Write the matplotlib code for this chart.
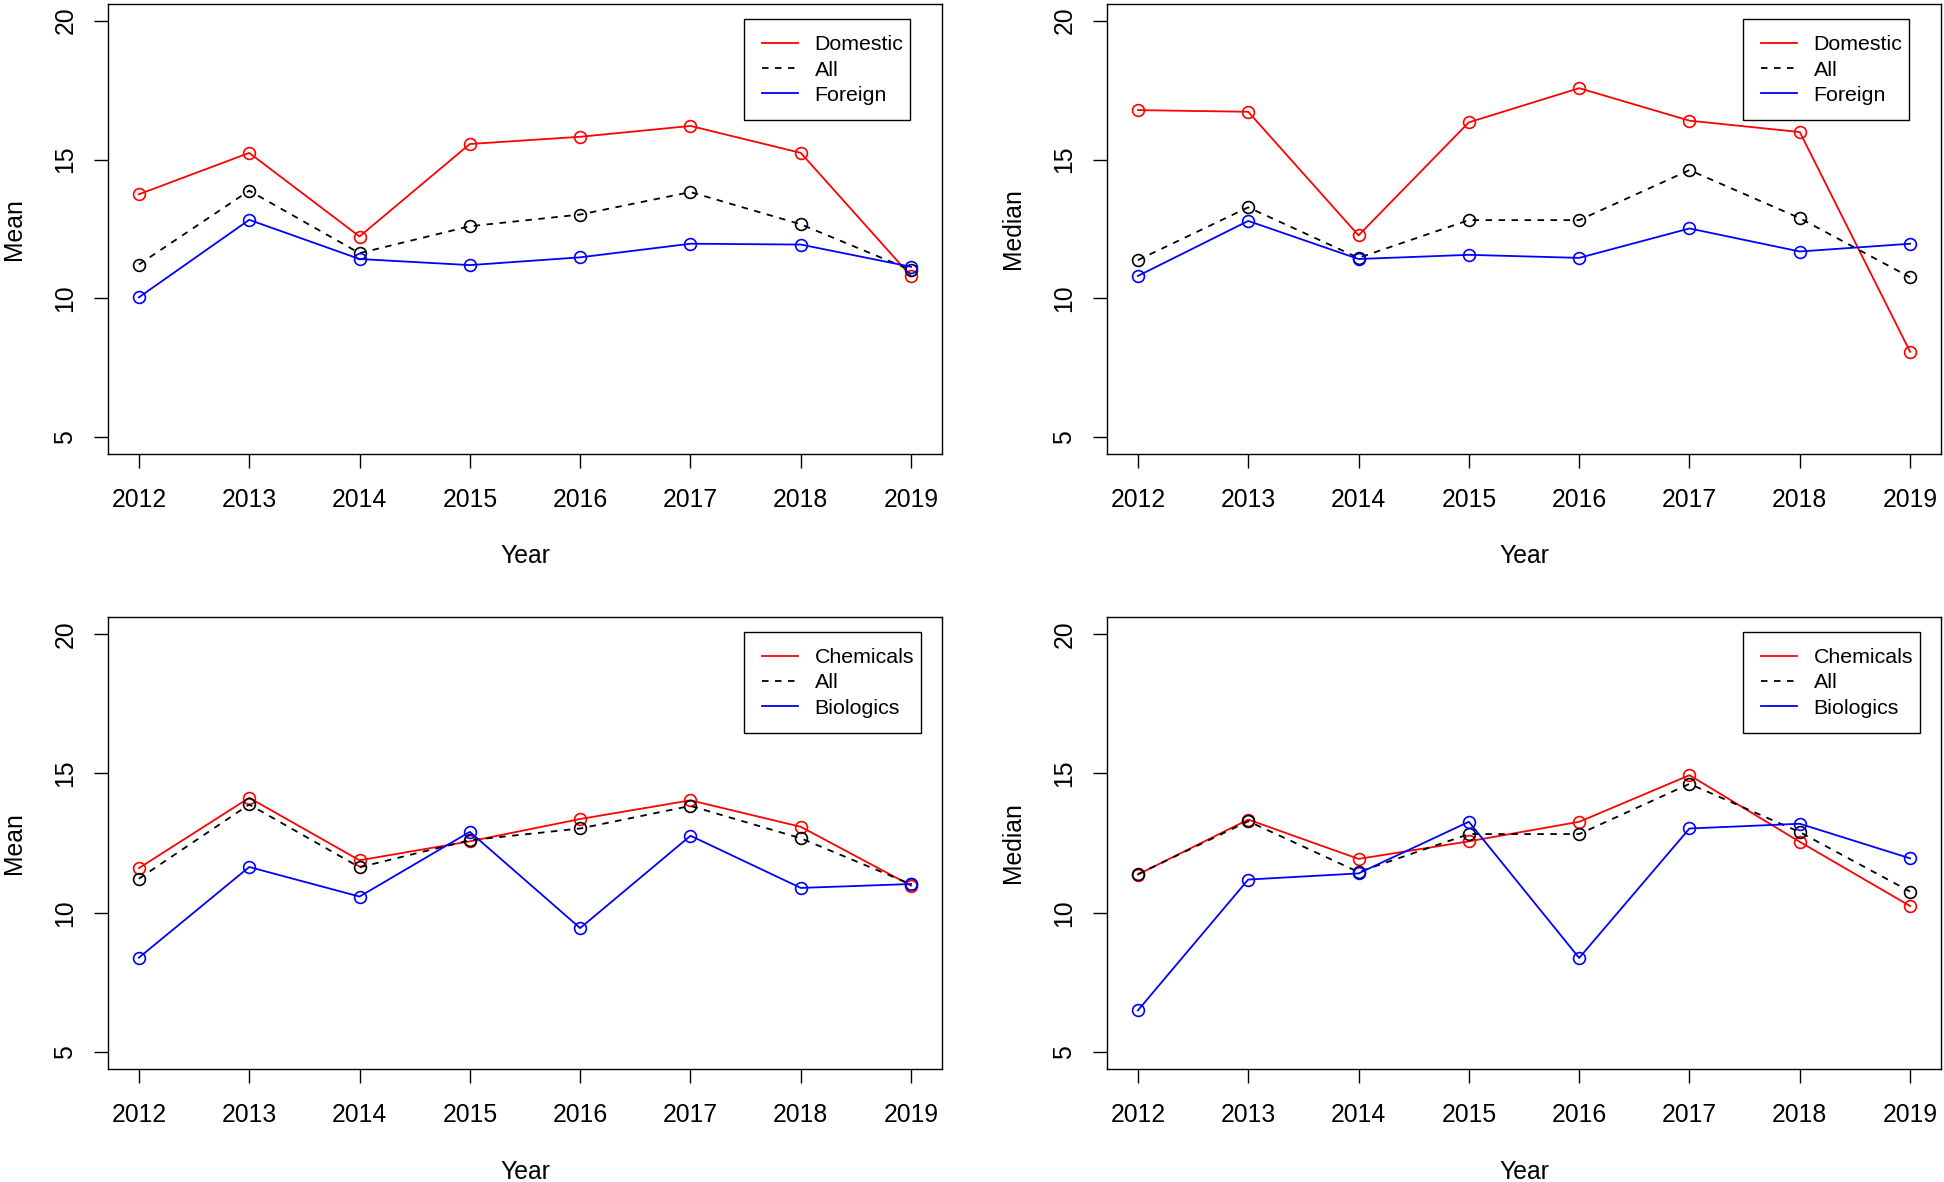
import matplotlib
matplotlib.use("Agg")
import matplotlib.pyplot as plt
from matplotlib.patches import Rectangle
from matplotlib.transforms import IdentityTransform

plt.rcParams["font.family"] = ["Liberation Sans", "DejaVu Sans"]

years = [2012, 2013, 2014, 2015, 2016, 2017, 2018, 2019]

# mean / median of all products
mean_all = [11.22, 13.88, 11.63, 12.60, 13.02, 13.83, 12.67, 11.02]
median_all = [11.38, 13.28, 11.46, 12.82, 12.82, 14.62, 12.89, 10.76]

# domestic vs foreign
mean_domestic = [13.75, 15.24, 12.23, 15.56, 15.82, 16.21, 15.24, 10.80]
mean_foreign = [10.04, 12.83, 11.42, 11.20, 11.48, 11.97, 11.94, 11.14]
median_domestic = [16.78, 16.72, 12.27, 16.34, 17.57, 16.40, 15.99, 8.08]
median_foreign = [10.81, 12.79, 11.42, 11.57, 11.46, 12.52, 11.69, 11.97]

# chemicals vs biologics
mean_chem = [11.60, 14.12, 11.88, 12.56, 13.36, 14.03, 13.08, 10.97]
mean_bio = [8.39, 11.64, 10.58, 12.90, 9.45, 12.76, 10.89, 11.03]
median_chem = [11.37, 13.34, 11.93, 12.56, 13.26, 14.93, 12.54, 10.24]
median_bio = [6.50, 11.19, 11.41, 13.26, 8.38, 13.02, 13.19, 11.95]

panels = [
    ("Mean", mean_domestic, mean_all, mean_foreign, "Domestic", "Foreign"),
    ("Median", median_domestic, median_all, median_foreign, "Domestic", "Foreign"),
    ("Mean", mean_chem, mean_all, mean_bio, "Chemicals", "Biologics"),
    ("Median", median_chem, median_all, median_bio, "Chemicals", "Biologics"),
]

W, H = 1944, 1182
fig = plt.figure(figsize=(W / 100, H / 100), dpi=100)

# axes boxes in pixels: left, top, right, bottom
boxes = [(108, 4, 942, 454), (1107, 4, 1941, 454),
         (108, 617, 942, 1069), (1107, 617, 1941, 1069)]

FS = 17.8
legends = []
for (ylab, red, allv, blue, lab_r, lab_b), (l, t, r, b) in zip(panels, boxes):
    ax = fig.add_axes([l / W, 1 - b / H, (r - l) / W, (b - t) / H])
    ms = 8.5
    ax.plot(years, red, color="red", lw=1.3, marker="o", ms=ms, mfc="none",
            mew=1.2, label=lab_r)
    ax.plot(years, allv, color="black", lw=1.3, ls=(0, (3.6, 3.6)), marker="o",
            ms=ms, mfc="none", mew=1.2, label="All")
    ax.plot(years, blue, color="blue", lw=1.3, marker="o", ms=ms, mfc="none",
            mew=1.2, label=lab_b)

    ax.set_xlim(2011.72, 2019.28)
    ax.set_ylim(4.4, 20.6)
    ax.set_xticks(years)
    ax.set_yticks([5, 10, 15, 20])
    ax.tick_params(axis="both", length=10, width=1.0, labelsize=FS, direction="out")
    ax.tick_params(axis="x", pad=14.7)
    ax.tick_params(axis="y", pad=12)
    for lbl in ax.get_yticklabels():
        lbl.set_rotation(90)
        lbl.set_va("center")
    for s in ax.spines.values():
        s.set_linewidth(1.0)

    ax.set_xlabel("Year", fontsize=FS)
    ax.xaxis.set_label_coords(0.5, -0.201)
    ax.set_ylabel(ylab, fontsize=FS)
    ax.yaxis.set_label_coords(-0.098, 0.5)

    # R-style legend: handles start 18 px inside a box whose left edge is fixed
    aw, ah = r - l, b - t
    leg = ax.legend(loc="center left", bbox_to_anchor=(654 / aw, 1 - 66 / ah),
                    fontsize=15.4, frameon=False, handlelength=1.68,
                    handletextpad=0.78, labelspacing=0.29, borderpad=0,
                    borderaxespad=0)
    leg.set_zorder(6)
    for h in leg.legend_handles:
        h.set_marker("")
    legends.append((ax, leg, l, t))

# frame around each legend, sized to its text like R's legend box
fig.canvas.draw()
renderer = fig.canvas.get_renderer()
for ax, leg, l, t in legends:
    x_right = max(tx.get_window_extent(renderer).x1 for tx in leg.get_texts()) + 7
    x_left = l + 636
    y_top = H - (t + 15)
    y_bot = H - (t + 116)
    box = Rectangle((x_left, y_bot), x_right - x_left, y_top - y_bot,
                    transform=IdentityTransform(), facecolor="white",
                    edgecolor="black", lw=1.0, zorder=5)
    ax.add_patch(box)

fig.savefig("out.png", dpi=100)
